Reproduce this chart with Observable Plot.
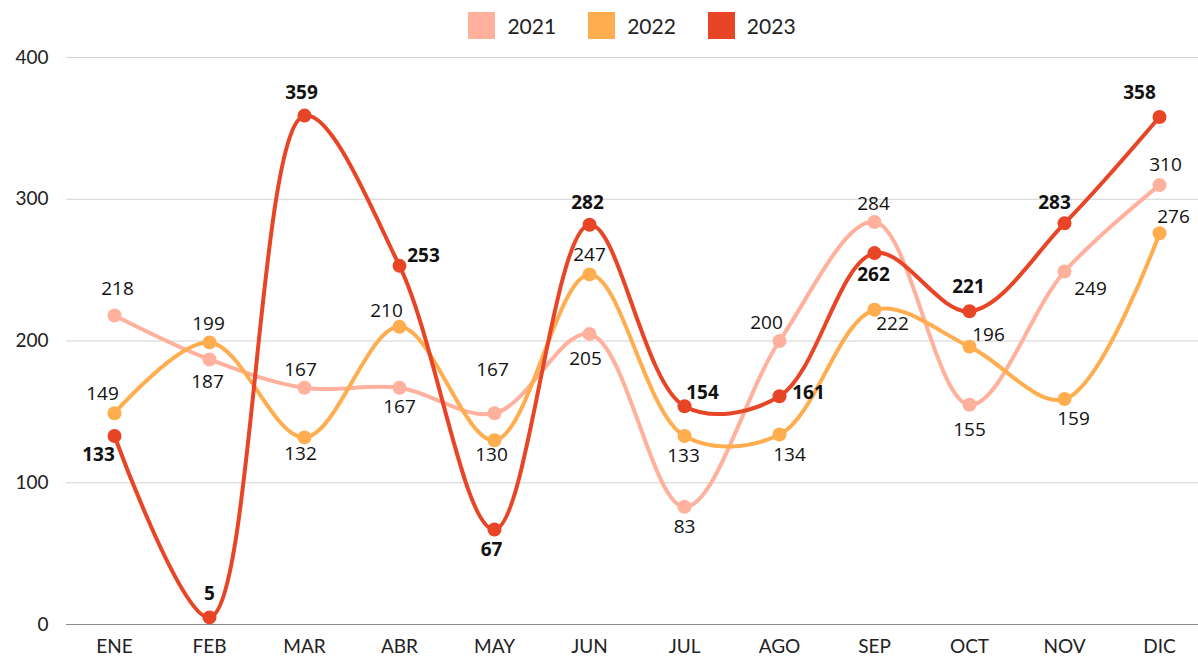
<!DOCTYPE html>
<html><head><meta charset="utf-8">
<script src="https://cdn.jsdelivr.net/npm/d3@7"></script>
<script src="https://cdn.jsdelivr.net/npm/@observablehq/plot@0.6"></script>
<style>
body{margin:0;background:#fff;}
#legend{height:50px;display:flex;justify-content:center;align-items:center;padding-left:66px;font-family:Lato, sans-serif;font-size:21px;color:#222;}
.item{display:flex;align-items:center;margin:0 16px;}
.sw{width:27px;height:27px;margin-right:12px;}
.lbl text{font-family:"Open Sans", sans-serif;}
</style></head><body>
<div id="legend"></div><div id="chart"></div>
<script>
const months = ["ENE","FEB","MAR","ABR","MAY","JUN","JUL","AGO","SEP","OCT","NOV","DIC"];
const years = ["2021","2022","2023"];
const colors = ["#FFB19D","#FFAD4E","#E84526"];
const v2021 = [218,187,167,167,149,205,83,200,284,155,249,310];
const v2022 = [149,199,132,210,130,247,133,134,222,196,159,276];
const v2023 = [133,5,359,253,67,282,154,161,262,221,283,358];
const labels2021 = ["218","187","167","167","167","205","83","200","284","155","249","310"];
const labels2022 = v2022.map(String);
const labels2023 = v2023.map(String);
const yTicks = [0,100,200,300,400];

// label placement (dx, dy) per point — layout only
const off2021 = [[3,-27],[-2,22],[-4,-18],[0,19],[-2,-43],[-4,25],[0,20],[-13,-18],[-1,-18],[0,25],[26,17],[6,-20]];
const off2022 = [[-12,-19],[-1,-19],[-4,17],[-13,-16],[-3,15],[0,-19],[-1,20],[10,20],[18,14],[19,-12],[9,20],[14,-16]];
const off2023 = [[-16,19],[0,-24],[-3,-23],[24,-10],[-3,20],[-2,-22],[18,-13],[29,-3],[-1,22],[-1,-24],[-10,-20],[-20,-24]];

const series = [
  {year:years[0], values:v2021, labels:labels2021, off:off2021, color:colors[0], weight:"normal"},
  {year:years[1], values:v2022, labels:labels2022, off:off2022, color:colors[1], weight:"normal"},
  {year:years[2], values:v2023, labels:labels2023, off:off2023, color:colors[2], weight:"bold"}
];

// legend
const leg = document.getElementById("legend");
series.forEach(s => {
  const it = document.createElement("div"); it.className = "item";
  const sw = document.createElement("div"); sw.className = "sw"; sw.style.background = s.color;
  const tx = document.createElement("span"); tx.textContent = s.year;
  it.appendChild(sw); it.appendChild(tx); leg.appendChild(it);
});

const marks = [
  Plot.ruleY(yTicks.filter(d => d > 0), {stroke:"#d2d2d2", strokeWidth:1}),
  Plot.ruleY([0], {stroke:"#8a8a8a", strokeWidth:1}),
  Plot.axisY({ticks:yTicks, tickSize:0, tickPadding:18, fontSize:19, fill:"#222", label:null}),
  Plot.axisX({tickSize:0, tickPadding:15, fontSize:19, fill:"#222", label:null})
];
series.forEach(s => {
  const data = months.map((m, i) => ({month:m, value:s.values[i], label:s.labels[i]}));
  marks.push(Plot.line(data, {x:"month", y:"value", stroke:s.color, strokeWidth:4, curve:"catmull-rom"}));
  marks.push(Plot.dot(data, {x:"month", y:"value", r:7, fill:s.color}));
});
series.forEach(s => {
  months.forEach((m, i) => {
    marks.push(Plot.text([{month:m, value:s.values[i], label:s.labels[i]}], {
      x:"month", y:"value", text:"label", dx:s.off[i][0], dy:s.off[i][1],
      fontSize:19, fontWeight:s.weight, fill:"#111", className:"lbl"
    }));
  });
});

const chart = Plot.plot({
  width:1198, height:607,
  marginLeft:66, marginRight:0, marginTop:7, marginBottom:33,
  x:{type:"point", domain:months, range:[114,1159], padding:0},
  y:{domain:[0,400]},
  style:{background:"#fff", overflow:"visible", fontFamily:"Lato, sans-serif"},
  marks
});
document.getElementById("chart").appendChild(chart);
</script>
</body></html>
